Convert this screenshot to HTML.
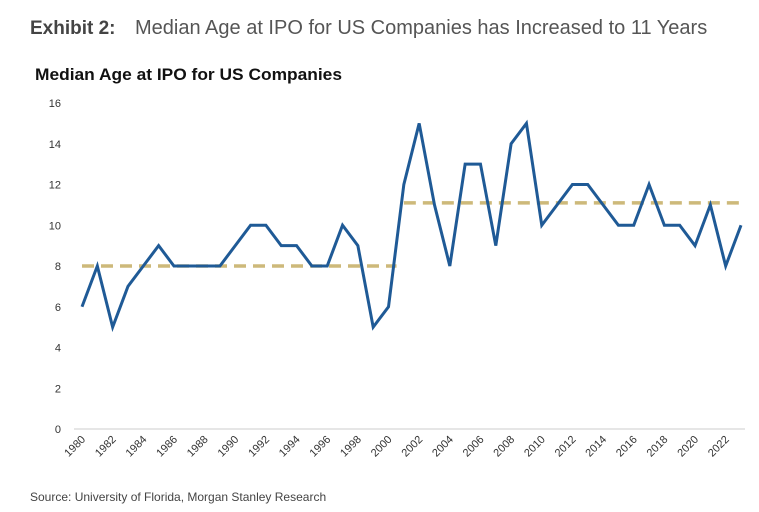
<!DOCTYPE html>
<html><head><meta charset="utf-8"><style>
body{margin:0;background:#fff;width:759px;height:507px;overflow:hidden;font-family:"Liberation Sans",sans-serif;}
</style></head><body>
<svg width="759" height="507" xmlns="http://www.w3.org/2000/svg">
<text x="30" y="34" font-size="19" font-weight="bold" fill="#444">Exhibit 2:</text>
<text x="135" y="34" font-size="20" fill="#555">Median Age at IPO for US Companies has Increased to 11 Years</text>
<text x="35" y="80" font-size="17" font-weight="bold" fill="#111" textLength="307" lengthAdjust="spacingAndGlyphs">Median Age at IPO for US Companies</text>
<g id="axes"></g><g id="marks"></g>
<text x="30" y="501" font-size="12" fill="#444">Source: University of Florida, Morgan Stanley Research</text>
</svg>
<script>
const years=[1980,1981,1982,1983,1984,1985,1986,1987,1988,1989,1990,1991,1992,1993,1994,1995,1996,1997,1998,1999,2000,2001,2002,2003,2004,2005,2006,2007,2008,2009,2010,2011,2012,2013,2014,2015,2016,2017,2018,2019,2020,2021,2022,2023];
const medianAge=[6,8,5,7,8,9,8,8,8,8,9,10,10,9,9,8,8,10,9,5,6,12,15,11,8,13,13,9,14,15,10,11,12,12,11,10,10,12,10,10,9,11,8,10];
const yTicks=[0,2,4,6,8,10,12,14,16];
const avg1=[1980,2000,8];
const avg2=[2001,2023,11.1];
const NS="http://www.w3.org/2000/svg";
const x=y=>82+(y-1980)*(741-82)/43;
const yS=v=>429-v*(429-103)/16;
function mk(t,a,p){const e=document.createElementNS(NS,t);for(const k in a)e.setAttribute(k,a[k]);p.appendChild(e);return e;}
const ax=document.getElementById('axes'),mg=document.getElementById('marks');
const base=mk('line',{x1:74,x2:745,y1:yS(0),y2:yS(0),stroke:'#ccc','stroke-width':1},ax);


yTicks.forEach(v=>{const t=mk('text',{x:61,y:yS(v)+4,'font-size':11,fill:'#333','text-anchor':'end'},ax);t.textContent=v;

});
years.forEach(yr=>{if(yr%2)return;const px=x(yr)+4,py=440;const t=mk('text',{x:px,y:py,'font-size':11,fill:'#333','text-anchor':'end',transform:`rotate(-45 ${px} ${py})`},ax);t.textContent=yr;

});
[avg1,avg2].forEach((a,i)=>{const l=mk('line',{x1:x(a[0]),x2:x(a[1])+(i==0?8:0),y1:yS(a[2]),y2:yS(a[2]),stroke:'#cdb97a','stroke-width':3.5,'stroke-dasharray':'12 7'},mg);

});
const p=mk('polyline',{points:years.map((yr,i)=>x(yr)+','+yS(medianAge[i])).join(' '),fill:'none',stroke:'#1f5a96','stroke-width':3,'stroke-linejoin':'miter'},mg);


</script>
</body></html>
